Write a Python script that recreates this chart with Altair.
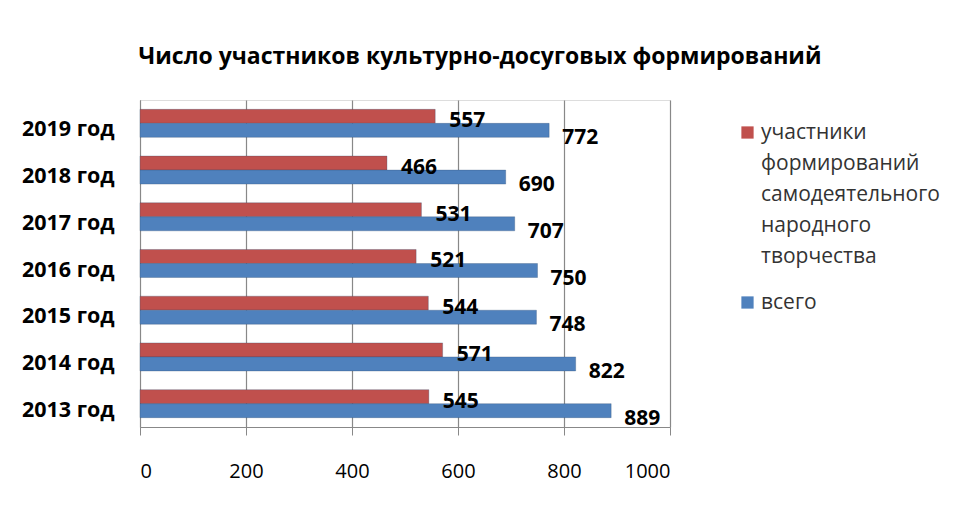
import altair as alt
import pandas as pd

years = ["2019 год", "2018 год", "2017 год\u00a0", "2016 год", "2015 год", "2014 год", "2013 год\u00a0"]
participants = [557, 466, 531, 521, 544, 571, 545]
total = [772, 690, 707, 750, 748, 822, 889]
series_names = ["участники формирований самодеятельного народного творчества", "всего"]
legend_lines = ["участники", "формирований", "самодеятельного", "народного", "творчества"]
colors = ["#C0504D", "#4F81BD"]
x_ticks = [0, 200, 400, 600, 800, 1000]

rows = []
for y, p, t in zip(years, participants, total):
    rows.append({"year": y, "series": series_names[0], "value": p})
    rows.append({"year": y, "series": series_names[1], "value": t})
df = pd.DataFrame(rows)

FONT = "Open Sans"

y_enc = alt.Y("year:N", sort=years, title=None,
              scale=alt.Scale(paddingInner=0.4, paddingOuter=0.2),
              axis=alt.Axis(labelFontSize=21.5, labelFontWeight="bold", labelColor="#000",
                            labelFont=FONT, ticks=False, labelPadding=26, labelOffset=7,
                            domain=True, domainColor="#888", grid=False))
x_enc = alt.X("value:Q", title=None,
              scale=alt.Scale(domain=[0, 1000]),
              axis=alt.Axis(values=x_ticks, format="d", labelFontSize=20,
                            labelColor="#000", labelFont=FONT, tickSize=8,
                            tickColor="#888", domainColor="#888", labelPadding=26,
                            grid=True, gridColor="#888", gridWidth=1.2))
yoff = alt.YOffset("series:N", sort=series_names)
legend_expr = "datum.label == 'всего' ? 'всего' : " + str(legend_lines)
color = alt.Color("series:N", sort=series_names,
                  scale=alt.Scale(domain=series_names, range=colors),
                  legend=alt.Legend(title=None, orient="none", legendX=597, legendY=22,
                                    labelFontSize=21, labelColor="#333", labelFont=FONT,
                                    labelLimit=300, symbolType="square", symbolSize=150,
                                    symbolStrokeWidth=0, rowPadding=24, labelOffset=3,
                                    labelBaseline="middle",
                                    labelExpr=legend_expr))

base = alt.Chart(df)
bars = base.mark_bar(stroke="#2b4a70", strokeWidth=0.3).encode(
    y=y_enc, x=x_enc, yOffset=yoff, color=color)

red_labels = base.transform_filter(alt.datum.series == series_names[0]).mark_text(
    align="left", baseline="middle", dx=14, dy=5, fontSize=21, fontWeight="bold",
    font=FONT, color="#000").encode(
    y=alt.Y("year:N", sort=years), x="value:Q",
    yOffset=alt.YOffset("series:N", sort=series_names, scale=alt.Scale(domain=series_names)),
    text="value:Q")
blue_labels = base.transform_filter(alt.datum.series == series_names[1]).mark_text(
    align="left", baseline="middle", dx=13, dy=8, fontSize=21, fontWeight="bold",
    font=FONT, color="#000").encode(
    y=alt.Y("year:N", sort=years), x="value:Q",
    yOffset=alt.YOffset("series:N", sort=series_names, scale=alt.Scale(domain=series_names)),
    text="value:Q")

chart = alt.layer(bars, red_labels, blue_labels).properties(
    width=530, height=327,
    autosize=alt.AutoSizeParams(type="none"),
    padding={"left": 132, "top": 92, "right": 282, "bottom": 75},
    title=alt.Title("Число участников культурно-досуговых  формирований",
                    fontSize=23, fontWeight="bold", font=FONT, color="#000",
                    anchor="middle", dx=75, offset=31),
).configure_view(stroke=None).configure_legend(padding=0).configure(
    style={"guide-label": {"lineHeight": 31}})

chart.save("out.html", embed_options={"renderer": "svg", "actions": False})
